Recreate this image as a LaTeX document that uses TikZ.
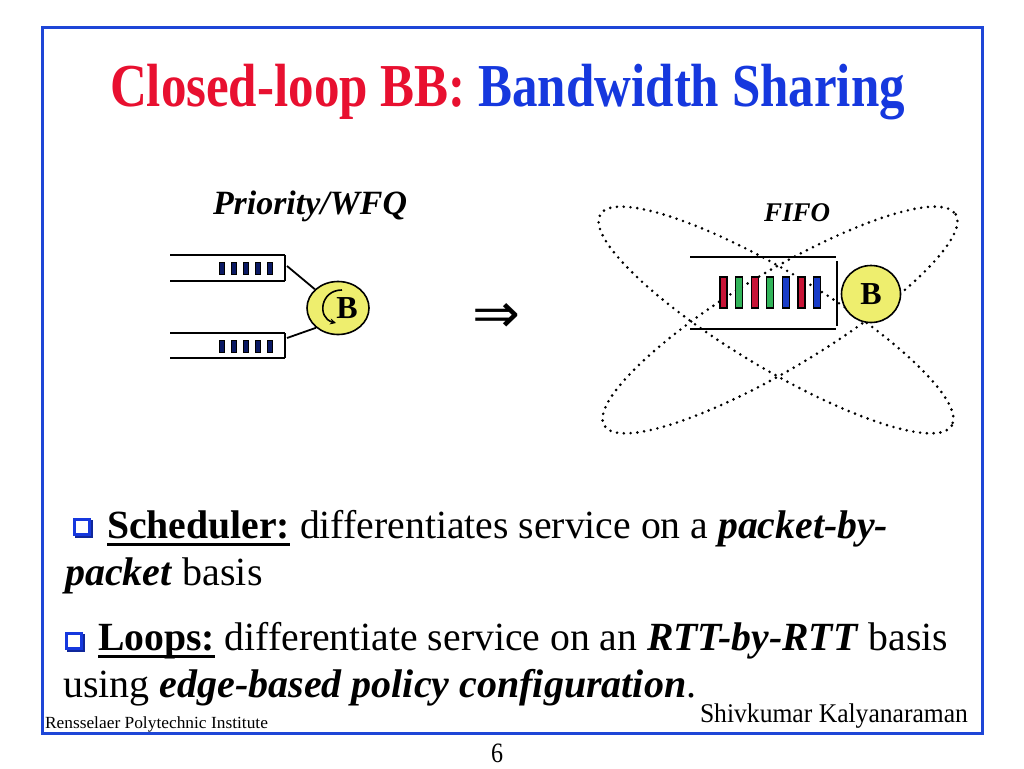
\documentclass[tikz,border=0pt]{standalone}
\usepackage{fontspec}
\setmainfont{Liberation Serif}
\newfontfamily\djv{DejaVu Sans}
\usetikzlibrary{shapes.geometric,arrows.meta}
\definecolor{tred}{RGB}{232,16,48}
\definecolor{tblue}{RGB}{22,56,222}
\definecolor{frameblue}{RGB}{30,70,215}
\definecolor{byellow}{RGB}{238,238,110}
\definecolor{pred}{RGB}{200,20,55}
\definecolor{pgreen}{RGB}{50,180,90}
\definecolor{pblue}{RGB}{25,60,200}
\definecolor{pnavy}{RGB}{10,25,100}
\newcommand\myul[1]{\setbox0\hbox{#1}\rlap{\rule[-8pt]{\wd0}{2.6pt}}\box0\relax}
\newcommand\myfs[1]{\fontsize{#1}{#1}\selectfont}
\tikzset{
  txt/.style={inner sep=0pt, outer sep=0pt, anchor=base west},
  qline/.style={line width=2.8pt},
  pktl/.style={fill=pnavy, draw=black, line width=0.8pt},
  pkt/.style={draw=black, line width=1.3pt},
  bnode/.style={ellipse, draw=black, line width=1.6pt, fill=byellow, inner sep=0pt},
  orbit/.style={line width=2.9pt, line cap=round, dash pattern=on 0pt off 6.8pt},
  conn/.style={line width=1.8pt},
}
\begin{document}
\begin{tikzpicture}[x=1pt,y=-1pt]
\useasboundingbox (0,0) rectangle (1024,768);
\fill[white] (0,0) rectangle (1024,768);
% frame
\draw[frameblue, line width=3pt] (42,28) rectangle (982,733);
% title
\node[txt] (title) at (110,106) {\myfs{61}\resizebox{795pt}{\height}{\textbf{\color{tred}Closed-loop BB: \color{tblue}Bandwidth Sharing}}};
% labels
\node[txt] (prio) at (213,214) {\myfs{34}\resizebox{194pt}{\height}{\textbf{\textit{Priority/WFQ}}}};
\node[txt] (fifo) at (764,221) {\myfs{27}\textbf{\textit{FIFO}}};
% left queues
\draw[qline] (170,255) -- (285,255);
\draw[qline] (170,281) -- (285,281);
\draw[line width=1.6pt] (285,255) -- (285,281);
\draw[qline] (170,333) -- (285,333);
\draw[qline] (170,358) -- (285,358);
\draw[line width=1.6pt] (285,333) -- (285,358);
\foreach \x in {219,231,243,255,267}{
  \draw[pktl] (\x,262) rectangle ++(5,12);
  \draw[pktl] (\x,340) rectangle ++(5,12);
}
\coordinate (q1) at (287,266);
\coordinate (q2) at (287,338);
\node[bnode, minimum width=62pt, minimum height=53pt] (bl) at (338,308) {};
\node[txt, anchor=base] (blt) at (347,318) {\myfs{32}\textbf{B}};
\draw[line width=1.6pt, -{Stealth[length=6pt,width=6pt]}] (342,290) .. controls (320,290) and (317,318) .. (336,323);
\draw[conn] (q1) -- (bl.141);
\draw[conn] (q2) -- (bl.222);
% implication arrow
\node[inner sep=0pt] (impl) at (496,318) {\resizebox{48pt}{29pt}{\myfs{48}\djv ⇒}};
% right: orbits
\draw[orbit] (776,320) ellipse [x radius=205, y radius=48, rotate=-31];
\draw[orbit] (780,320) ellipse [x radius=205, y radius=48, rotate=31];
% right queue
\draw[qline] (690,257) -- (836,257);
\draw[qline] (690,329) -- (836,329);
\draw[qline] (837,261) -- (837,326);
\foreach \x/\c in {720/pred,735.6/pgreen,751.2/pred,766.8/pgreen,782.4/pblue,798/pred,813.6/pblue}{
  \draw[pkt, fill=\c] (\x,277) rectangle ++(7,31);
}
\node[bnode, minimum width=59pt, minimum height=57pt] (br) at (871,294) {};
\node[txt, anchor=base] (brt) at (871,304) {\myfs{32}\textbf{B}};
% bullets
\fill[tblue!70!black] (75,520) rectangle (93,538);
\draw[tblue, line width=2.6pt, fill=white] (74.3,519.3) rectangle (89.5,534.5);
\fill[tblue!70!black] (67,634) rectangle (85,652);
\draw[tblue, line width=2.6pt, fill=white] (66.3,633.3) rectangle (81.5,648.5);
% text
\node[txt] (l1) at (107,538) {\myfs{40}\resizebox{781pt}{\height}{\myul{\textbf{Scheduler:}} differentiates service on a \textbf{\textit{packet-by-}}}};
\node[txt] (l2) at (65,585) {\myfs{40}\textbf{\textit{packet}} basis};
\node[txt] (l3) at (98,650) {\myfs{40}\resizebox{850pt}{\height}{\myul{\textbf{Loops:}} differentiate service on an \textbf{\textit{RTT-by-RTT}} basis}};
\node[txt] (l4) at (63,697) {\myfs{40}using \textbf{\textit{edge-based policy configuration}}.};
% footer
\node[txt] (rpi) at (45,728) {\myfs{17}\resizebox{223pt}{\height}{Rensselaer Polytechnic Institute}};
\node[txt] (auth) at (700,722) {\myfs{27}\resizebox{268pt}{\height}{Shivkumar Kalyanaraman}};
\node[txt, anchor=base] (pg) at (497,762) {\myfs{28}\resizebox{12pt}{\height}{6}};
\end{tikzpicture}
\end{document}
